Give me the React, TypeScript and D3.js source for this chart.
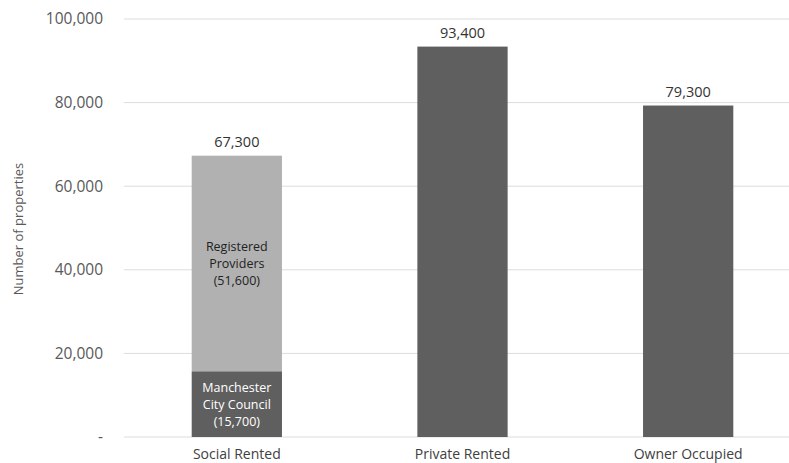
import React from "react";
import * as d3 from "d3";

const categories = ["Social Rented", "Private Rented", "Owner Occupied"];
const councilValues = [15700, 0, 0];
const providerValues = [51600, 0, 0];
const mainValues = [0, 93400, 79300];
const totalLabels = ["67,300", "93,400", "79,300"];
const yTicks = [0, 20000, 40000, 60000, 80000, 100000];

const W = 789, H = 463;
const left = 124, right = 801, top = 19, bottom = 437;
const font = "'Open Sans', sans-serif";

export default function App() {
  const x = d3.scaleBand<string>().domain(categories).range([left, right]).paddingInner(0.6).paddingOuter(0.3);
  const y = d3.scaleLinear().domain([0, 100000]).range([bottom, top]);
  const fmt = d3.format(",");
  const dark = "#5f5f5f", light = "#b1b1b1";
  const lh = 17;
  return (
    <svg width={W} height={H} style={{ position: "absolute", left: 0, top: 0, background: "#fff" }} fontFamily={font}>
      <rect width={W} height={H} fill="#fff" />
      {yTicks.map((t) => (
        <g key={t}>
          <line x1={left} x2={W} y1={y(t)} y2={y(t)} stroke="#dcdcdc" strokeWidth={1} />
          <text x={103} y={y(t)} dy="0.35em" textAnchor="end" fontSize={15.5} fill="#595959">
            {t === 0 ? "-" : fmt(t)}
          </text>
        </g>
      ))}
      <text transform={`translate(23,${229}) rotate(-90)`} textAnchor="middle" fontSize={13} fill="#595959">
        Number of properties
      </text>
      {categories.map((c, i) => {
        const bx = x(c)!;
        const bw = x.bandwidth();
        const cx = bx + bw / 2;
        const total = councilValues[i] + providerValues[i] + mainValues[i];
        return (
          <g key={c}>
            {mainValues[i] > 0 && (
              <rect x={bx} width={bw} y={y(mainValues[i])} height={y(0) - y(mainValues[i])} fill={dark} />
            )}
            {providerValues[i] > 0 && (
              <rect x={bx} width={bw} y={y(councilValues[i] + providerValues[i])} height={y(councilValues[i]) - y(councilValues[i] + providerValues[i])} fill={light} />
            )}
            {councilValues[i] > 0 && (
              <rect x={bx} width={bw} y={y(councilValues[i])} height={y(0) - y(councilValues[i])} fill={dark} />
            )}
            {providerValues[i] > 0 && (
              <text x={cx} y={y(councilValues[i] + providerValues[i] / 2)} textAnchor="middle" fontSize={12.5} fill="#222">
                <tspan x={cx} dy={-lh + 4}>Registered</tspan>
                <tspan x={cx} dy={lh}>Providers</tspan>
                <tspan x={cx} dy={lh}>({fmt(providerValues[i])})</tspan>
              </text>
            )}
            {councilValues[i] > 0 && (
              <text x={cx} y={y(councilValues[i] / 2)} textAnchor="middle" fontSize={12.5} fill="#fff">
                <tspan x={cx} dy={-lh + 5}>Manchester</tspan>
                <tspan x={cx} dy={lh}>City Council</tspan>
                <tspan x={cx} dy={lh}>({fmt(councilValues[i])})</tspan>
              </text>
            )}
            <text x={cx} y={y(total) - 9} textAnchor="middle" fontSize={14.5} fill="#333">
              {totalLabels[i]}
            </text>
            <text x={cx} y={459} textAnchor="middle" fontSize={14} fill="#404040">
              {c}
            </text>
          </g>
        );
      })}
    </svg>
  );
}
